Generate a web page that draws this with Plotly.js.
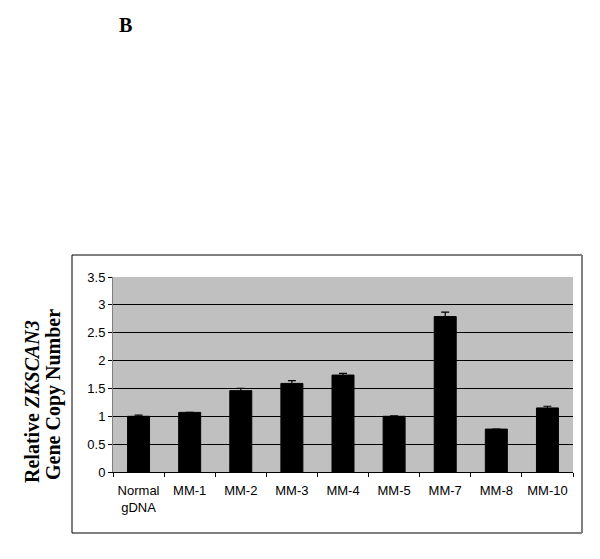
<!DOCTYPE html>
<html>
<head>
<meta charset="utf-8">
<script src="https://cdn.plot.ly/plotly-3.0.1.min.js"></script>
<style>html,body{margin:0;padding:0;background:#fff;}</style>
</head>
<body>
<div id="chart" style="width:600px;height:559px;"></div>
<script>
const categories = ["Normal<br>gDNA", "MM-1", "MM-2", "MM-3", "MM-4", "MM-5", "MM-7", "MM-8", "MM-10"];
const copyNumber = [1.0, 1.07, 1.46, 1.59, 1.74, 1.0, 2.79, 0.77, 1.15];
const errorValues = [0.02, 0.0, 0.04, 0.05, 0.03, 0.01, 0.08, 0.0, 0.03];
const yTicks = [0, 0.5, 1, 1.5, 2, 2.5, 3, 3.5];
const yTickLabels = ["0", "0.5", "1", "1.5", "2", "2.5", "3", "3.5"];

const trace = {
  type: "bar",
  x: categories,
  y: copyNumber,
  marker: {color: "#000000", line: {color: "#000000", width: 1}},
  error_y: {type: "data", array: errorValues, visible: true, color: "#000000", thickness: 1.2, width: 4},
  hoverinfo: "x+y"
};

const L = 113, R = 573, T = 277, B = 472;
const W = 600, H = 559;
const pw = R - L, ph = B - T;
function px(x) { return (x - L) / pw; }
function py(y) { return (B - y) / ph; }

const tickFont = {family: "Liberation Sans, Arial, sans-serif", size: 13, color: "#000"};
const titleFont = {family: "Liberation Serif, Times New Roman, serif", size: 20, color: "#000"};

const layout = {
  width: W, height: H,
  margin: {l: L, r: W - R, t: T, b: H - B, pad: 0},
  paper_bgcolor: "#ffffff",
  plot_bgcolor: "#c0c0c0",
  showlegend: false,
  bargap: 0.57,
  font: tickFont,
  xaxis: {
    type: "category",
    showgrid: false,
    showline: true, linecolor: "#000", linewidth: 1,
    ticks: "outside", ticklen: 4, tickcolor: "#000", tickson: "boundaries",
    ticklabelstandoff: 6,
    tickfont: tickFont,
    fixedrange: true
  },
  yaxis: {
    range: [0, 3.5],
    tickvals: yTicks, ticktext: yTickLabels,
    showgrid: true, gridcolor: "#000", gridwidth: 1,
    showline: true, linecolor: "#808080", linewidth: 1,
    ticks: "outside", ticklen: 4, tickcolor: "#000",
    zeroline: false,
    tickfont: tickFont,
    fixedrange: true
  },
  shapes: [
    {type: "rect", xref: "paper", yref: "paper",
     x0: px(72), x1: px(582), y0: py(533), y1: py(255),
     line: {color: "#000", width: 1}, fillcolor: "rgba(0,0,0,0)", layer: "below"},
    {type: "line", xref: "paper", yref: "paper",
     x0: px(582), x1: px(582), y0: py(533), y1: py(255),
     line: {color: "#808080", width: 2}}
  ],
  annotations: [
    {text: "<b>B</b>", xref: "paper", yref: "paper", x: px(125), y: py(25),
     xanchor: "center", yanchor: "middle", showarrow: false,
     font: {family: "Liberation Serif, Times New Roman, serif", size: 20, color: "#000"}},
    {text: "<b>Relative <i>ZKSCAN3</i></b>",
     xref: "paper", yref: "paper", x: px(32), y: py(402),
     xanchor: "center", yanchor: "middle", textangle: -90, showarrow: false,
     font: titleFont},
    {text: "<b>Gene Copy Number</b>",
     xref: "paper", yref: "paper", x: px(53), y: py(395),
     xanchor: "center", yanchor: "middle", textangle: -90, showarrow: false,
     font: titleFont}
  ]
};

Plotly.newPlot("chart", [trace], layout, {displayModeBar: false, staticPlot: true});
</script>
</body>
</html>
